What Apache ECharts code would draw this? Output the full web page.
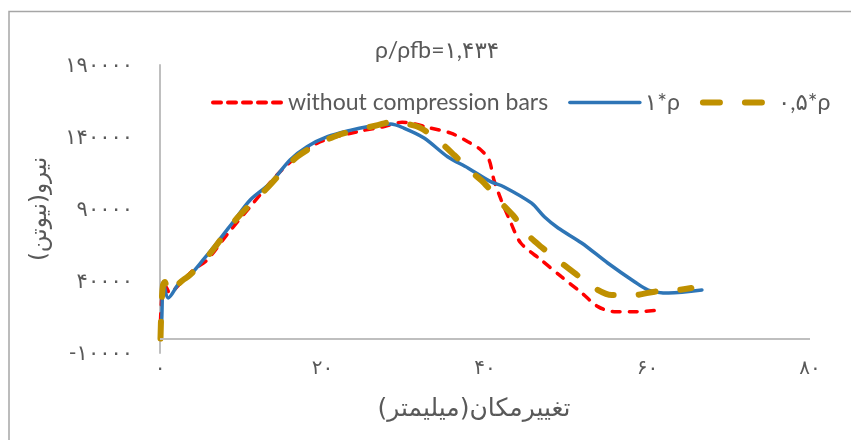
<!DOCTYPE html>
<html lang="fa">
<head>
    <meta charset="UTF-8">
    <title>نیرو - تغییر مکان</title>
    <script src="https://cdn.jsdelivr.net/npm/echarts@6/dist/echarts.min.js"></script>
    <style>
        html, body { margin: 0; padding: 0; background: #fff; }
        #main { width: 851px; height: 440px; }
    </style>
</head>
<body>
<div id="main"></div>
<script type="text/javascript">
    // داده ها (تغییر مکان بر حسب میلیمتر، نیرو بر حسب نیوتن)
    var noBars = [
        [0, 0], [0.12, 20000], [0.37, 35000], [0.7, 36000], [1.2, 31500], [2.1, 36000],
        [4.1, 47600], [5.8, 54600], [8.2, 71900], [11.1, 91600], [15.2, 118300],
        [19.3, 135600], [24.3, 143700], [27.5, 147100], [29.8, 150300], [33.3, 146200],
        [35.8, 142700], [37.9, 136700], [39.5, 131000], [40.5, 124100], [41.1, 110100],
        [42.0, 96200], [43.2, 80200], [44.4, 66400], [46.9, 54600], [49.4, 43000],
        [51.9, 31700], [53.9, 22200], [55.9, 18700], [58.4, 18700], [61.7, 19900]
    ];
    var rho1 = [
        [0.05, 6000], [0.21, 12900], [0.41, 39500], [1.02, 28200], [2.47, 39500],
        [3.7, 44200], [5.3, 54600], [7.0, 66400], [9.0, 81000], [11.1, 96300],
        [13.6, 108100], [16.0, 124100], [18.1, 133300], [20.6, 140200], [23.5, 144800],
        [25.5, 147100], [28.4, 149000], [30.0, 146200], [32.5, 139300], [35.4, 126300],
        [37.9, 118500], [40.7, 109000], [42.3, 105500], [45.7, 94200], [47.3, 84600],
        [49.0, 76800], [51.9, 66400], [55.1, 52500], [58.4, 39500], [60.1, 33700],
        [62.6, 31600], [66.7, 33700]
    ];
    var rhoHalf = [
        [0.06, 0], [0.19, 23300], [0.37, 37200], [0.6, 39300], [1.0, 31700], [1.85, 35800],
        [2.84, 40700], [3.7, 44200], [6.2, 59400], [9.5, 83700], [13.2, 104600],
        [16.9, 126300], [21.4, 140200], [26.8, 148300], [29.0, 151000], [30.0, 149700],
        [32.1, 146200], [34.6, 135800], [36.2, 127500], [38.3, 115900], [39.9, 108000],
        [42.0, 94200], [43.6, 84600], [45.3, 71900], [46.9, 63800], [49.4, 52500],
        [51.0, 45600], [53.5, 35100], [55.6, 30300], [58.4, 30300], [60.9, 32600],
        [63.8, 33700], [65.4, 35100]
    ];
    var seriesNames = ['without compression bars', '۱*ρ', '۰,۵*ρ'];
    var titleText = 'ρ/ρfb=۱,۴۳۴';
    var xName = 'تغییرمکان(میلیمتر)\u200F';
    var yName = 'نیرو(نیوتن)\u200F';

    var faDigits = '۰۱۲۳۴۵۶۷۸۹';
    function toFa(v) {
        return String(v).replace(/\d/g, function (d) { return faDigits[d]; });
    }

    var textColor = '#595959';
    var axisColor = '#bfbfbf';
    var font = 'Lato, "Noto Sans", "DejaVu Sans", sans-serif';

    var myChart = echarts.init(document.getElementById('main'));
    myChart.setOption({
        backgroundColor: '#fff',
        animation: false,
        textStyle: { fontFamily: font },
        graphic: [{
            type: 'rect',
            shape: { x: 9, y: 11.5, width: 1000, height: 1000 },
            style: { fill: 'none', stroke: '#a6a6a6', lineWidth: 1.5 },
            silent: true
        }],
        title: {
            text: titleText,
            left: 432,
            textAlign: 'center',
            top: 34,
            textStyle: { color: textColor, fontSize: 23, fontWeight: 'normal', fontFamily: font }
        },
        legend: {
            left: 206,
            top: 86,
            itemWidth: 70,
            itemHeight: 14,
            itemGap: 20,
            itemStyle: { opacity: 0 },
            textStyle: { color: textColor, fontSize: 23, fontFamily: font },
            data: [
                { name: seriesNames[0], lineStyle: { width: 4, type: [8, 7], cap: 'round' } },
                { name: seriesNames[1], lineStyle: { width: 3.5 } },
                { name: seriesNames[2], lineStyle: { width: 6, type: [17, 25], cap: 'round' } }
            ]
        },
        grid: { left: 160, right: 41, top: 65, bottom: 87 },
        xAxis: {
            type: 'value',
            min: 0,
            max: 80,
            interval: 20,
            name: xName,
            nameLocation: 'middle',
            nameGap: 44,
            nameTextStyle: { color: textColor, fontSize: 25, fontFamily: 'DejaVu Sans, sans-serif', padding: [0, 22, 0, 0] },
            axisLine: { show: false },
            axisTick: { show: false },
            splitLine: { show: false },
            axisLabel: { color: textColor, fontSize: 20, margin: 5, formatter: function (v) { return toFa(v); } }
        },
        yAxis: {
            type: 'value',
            min: -10000,
            max: 190000,
            interval: 50000,
            name: yName,
            nameLocation: 'middle',
            nameGap: 108,
            nameTextStyle: { color: textColor, fontSize: 23, fontFamily: 'DejaVu Sans, sans-serif' },
            axisLine: { show: true, onZero: false, lineStyle: { color: axisColor, width: 2 } },
            axisTick: { show: false },
            splitLine: { show: false },
            axisLabel: { color: textColor, fontSize: 21, margin: 27, formatter: function (v) { return toFa(v); } }
        },
        series: [{
            name: seriesNames[0],
            type: 'line',
            data: noBars,
            smooth: 0.3,
            symbol: 'none',
            lineStyle: { color: '#ff0000', width: 3.5, type: [8, 9], cap: 'round' },
            itemStyle: { color: '#ff0000' },
            // خط محور افقی روی صفر
            markLine: {
                silent: true,
                symbol: ['none', 'none'],
                label: { show: false },
                lineStyle: { color: axisColor, width: 2, type: 'solid' },
                data: [{ yAxis: 0 }]
            },
            z: 2
        }, {
            name: seriesNames[1],
            type: 'line',
            data: rho1,
            smooth: 0.3,
            symbol: 'none',
            lineStyle: { color: '#2e75b6', width: 3.5, type: 'solid', cap: 'round' },
            itemStyle: { color: '#2e75b6' },
            z: 3
        }, {
            name: seriesNames[2],
            type: 'line',
            data: rhoHalf,
            smooth: 0.3,
            symbol: 'none',
            lineStyle: { color: '#bf9000', width: 6, type: [17, 25], cap: 'round' },
            itemStyle: { color: '#bf9000' },
            z: 4
        }]
    });
</script>
</body>
</html>
